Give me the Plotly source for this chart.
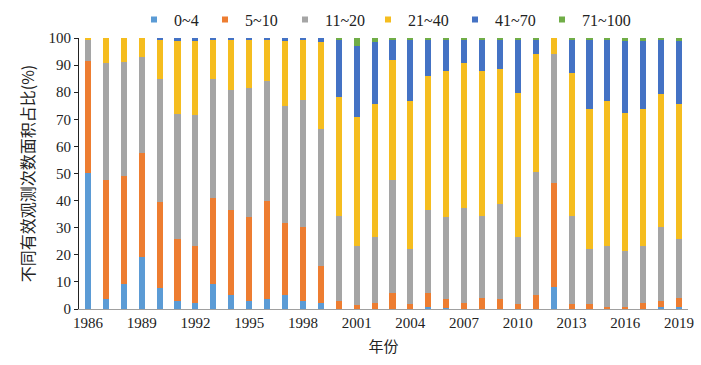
import plotly.graph_objects as go

years = list(range(1986, 2020))
series_names = ["0~4", "5~10", "11~20", "21~40", "41~70", "71~100"]
colors = ["#5B9BD5", "#ED7D31", "#A5A5A5", "#F5BD1F", "#4472C4", "#70AD47"]

v_0_4 = [50.3, 3.8, 9.3, 19.1, 7.6, 2.8, 2.2, 9.3, 5.3, 2.8, 3.8, 5.3, 2.8, 2.2,
         0.0, 0.0, 0.0, 0.0, 0.0, 0.7, 0.3, 0.0, 0.0, 0.0, 0.0, 0.0, 8.2, 0.0,
         0.0, 0.0, 0.0, 0.0, 0.7, 0.7]
v_5_10 = [41.1, 43.8, 39.9, 38.3, 31.9, 23.0, 21.2, 31.7, 31.3, 31.2, 36.1, 26.5, 27.3, 13.8,
          2.9, 1.3, 2.3, 6.0, 1.7, 5.3, 3.3, 2.3, 3.9, 3.6, 1.7, 5.0, 38.4, 1.7,
          1.7, 0.7, 0.7, 2.3, 2.2, 3.2]
v_11_20 = [8.0, 43.2, 42.1, 35.5, 45.3, 46.3, 48.1, 43.8, 44.3, 47.5, 44.3, 43.0, 47.1, 50.3,
           31.5, 22.1, 24.4, 41.6, 20.3, 30.6, 30.4, 34.8, 30.5, 35.3, 25.0, 45.4, 47.5, 32.7,
           20.3, 22.7, 20.6, 21.1, 27.2, 21.9]
v_21_40 = [0.6, 9.2, 8.7, 7.1, 14.6, 26.9, 27.5, 14.6, 18.5, 17.9, 15.2, 24.2, 22.2, 32.1,
           43.8, 47.6, 48.8, 44.2, 54.7, 49.3, 54.0, 53.8, 53.6, 49.7, 53.1, 43.7, 5.9, 52.6,
           51.7, 53.3, 51.0, 50.3, 49.2, 49.7]
v_41_70 = [0.0, 0.0, 0.0, 0.0, 0.6, 1.0, 1.0, 0.6, 0.6, 0.6, 0.6, 1.0, 0.6, 1.6,
           20.9, 25.9, 22.9, 7.6, 22.7, 13.5, 11.4, 8.5, 11.4, 10.8, 19.6, 5.3, 0.0, 12.4,
           25.7, 22.7, 26.7, 25.3, 20.1, 23.5]
v_71_100 = [0.0, 0.0, 0.0, 0.0, 0.0, 0.0, 0.0, 0.0, 0.0, 0.0, 0.0, 0.0, 0.0, 0.0,
            0.9, 3.1, 1.6, 0.6, 0.6, 0.6, 0.6, 0.6, 0.6, 0.6, 0.6, 0.6, 0.0, 0.6,
            0.6, 0.6, 1.0, 1.0, 0.6, 1.0]
values = [v_0_4, v_5_10, v_11_20, v_21_40, v_41_70, v_71_100]

tick_years = list(range(1986, 2020, 3))
y_ticks = list(range(0, 101, 10))

serif = "Liberation Serif, Times New Roman, serif"
cjk = "Noto Sans CJK SC, sans-serif"

fig = go.Figure()
for name, col, vals in zip(series_names, colors, values):
    fig.add_trace(go.Bar(x=years, y=vals, name=name, marker_color=col,
                         marker_line_width=0, showlegend=False, legendgroup=name))

legend_text_x = [171, 242, 322, 405, 492, 579]
L, R, T, B = 79, 13, 38, 56
for i, (name, col) in enumerate(zip(series_names, colors)):
    lg = "legend" if i == 0 else f"legend{i+1}"
    fig.add_trace(go.Scatter(x=[None], y=[None], mode="markers", name=name,
                             marker=dict(symbol="square", size=6, color=col),
                             legendgroup=name, showlegend=True, legend=lg))

layout_legends = {}
for i, px in enumerate(legend_text_x):
    key = "legend" if i == 0 else f"legend{i+1}"
    layout_legends[key] = dict(
        xref="container", yref="container",
        x=(px - 37) / 701, y=1 - 19.5 / 365, xanchor="left", yanchor="middle",
        orientation="h", bgcolor="rgba(0,0,0,0)", borderwidth=0,
        font=dict(family=serif, size=16, color="#222"),
        itemclick=False, itemdoubleclick=False,
    )

fig.update_layout(
    width=701, height=365,
    margin=dict(l=L, r=R, t=T, b=B, autoexpand=False),
    paper_bgcolor="white", plot_bgcolor="white",
    barmode="stack", bargap=0.66,
    font=dict(family=serif, size=15, color="#222"),
    **layout_legends,
    xaxis=dict(range=[1985.5, 2019.5], tickmode="array", tickvals=tick_years,
               ticktext=[str(y) for y in tick_years], showgrid=False,
               showline=True, linecolor="#A0A0A0", linewidth=1, ticks="",
               tickfont=dict(family=serif, size=15, color="#222"),
               title=dict(text="年份", font=dict(family=cjk, size=15, color="#222"), standoff=11)),
    yaxis=dict(range=[0, 100], tickmode="array", tickvals=y_ticks, showgrid=False,
               showline=True, linecolor="#222", linewidth=1, ticks="outside",
               ticklen=4, tickcolor="#222", zeroline=False,
               tickfont=dict(family=serif, size=15, color="#222"),
               title=dict(text="不同有效观测次数面积占比(%)",
                          font=dict(family=cjk, size=16, color="#222"), standoff=9)),
)

fig.write_html("out.html", config={"displayModeBar": False, "staticPlot": True},
               post_script="document.body.style.margin='0';")
